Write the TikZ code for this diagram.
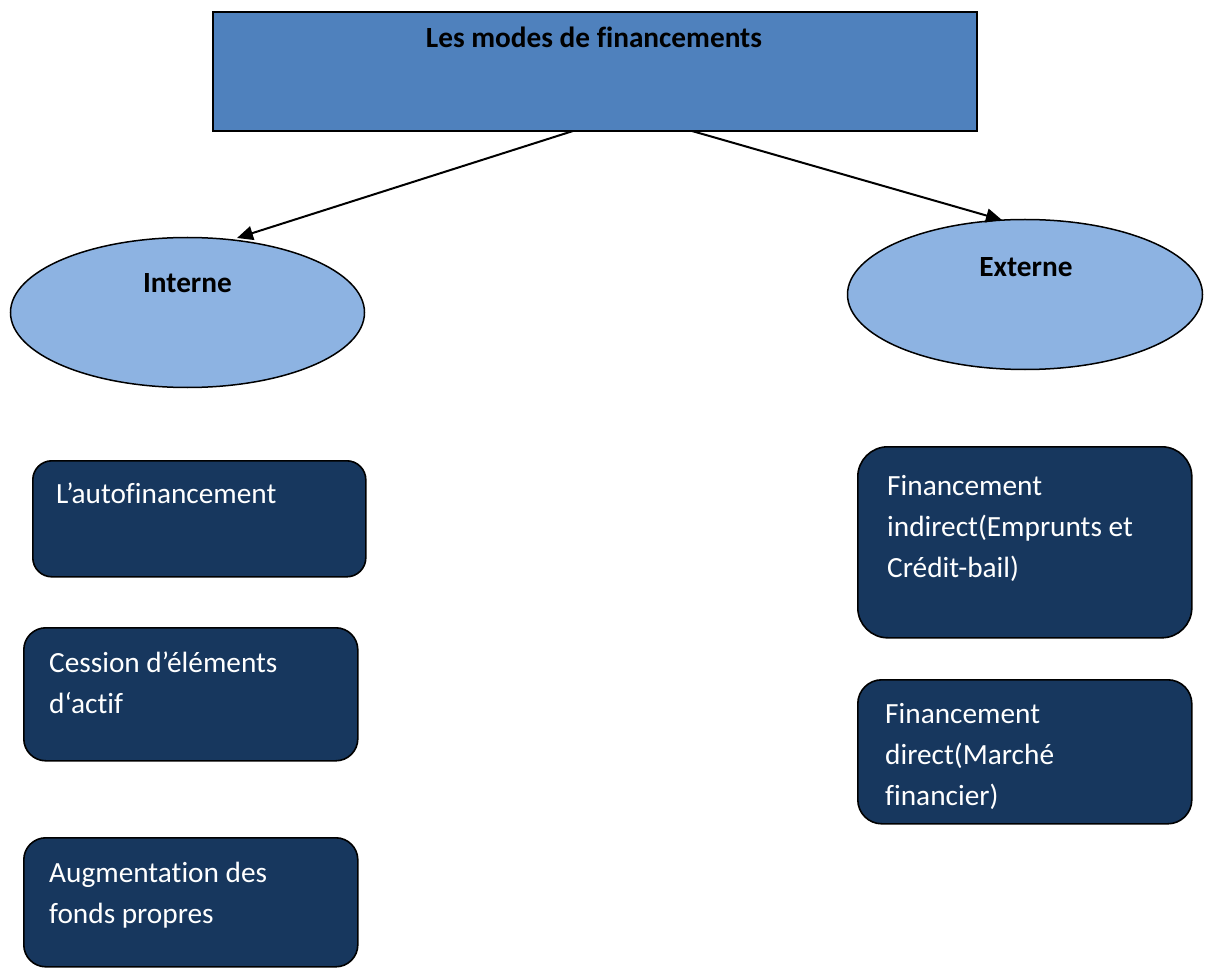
\documentclass[tikz,border=0pt]{standalone}
\usepackage{fontspec}
\setmainfont{Carlito}[Ligatures={NoCommon,NoRare,NoContextual}]
\usetikzlibrary{arrows.meta,shapes.geometric}
\definecolor{topblue}{HTML}{4F81BD}
\definecolor{ellblue}{HTML}{8DB3E2}
\definecolor{navyfill}{HTML}{17375E}
\begin{document}
\begin{tikzpicture}[x=1pt,y=-1pt,
  topbox/.style={draw=black,line width=2pt,fill=topblue,inner sep=0,minimum width=764pt,minimum height=119pt,anchor=north west},
  ellnode/.style={ellipse,draw=black,line width=1.5pt,fill=ellblue,inner sep=0},
  darkbox/.style={draw=black,line width=1.6pt,fill=navyfill,inner sep=0,anchor=north west},
  titletxt/.style={font=\fontsize{29.3}{41}\selectfont\bfseries,anchor=base,inner sep=0},
  wtxt/.style={font=\fontsize{29.3}{41}\selectfont,text=white,anchor=base west,inner sep=0},
  conn/.style={line width=2pt,-{Triangle[length=16pt,width=14pt]}}]
\useasboundingbox (0,0) rectangle (1205,968);
\clip (0,0) rectangle (1205,968);
\fill[white] (0,0) rectangle (1205,968);

% top box
\node[topbox] (top) at (212,11) {};
\node[titletxt] (ttop) at (594,48) {Les modes de financements};

% ellipses
\node[ellnode,minimum width=354pt,minimum height=150pt] (int) at (187.5,312.5) {};
\node[titletxt] (tint) at (187.5,293) {Interne};
\node[ellnode,minimum width=355pt,minimum height=150pt] (ext) at (1025,294.5) {};
\node[titletxt] (text) at (1026,277) {Externe};

% connectors
\coordinate (s1) at (573,131);
\coordinate (e1) at (237,238);
\coordinate (s2) at (692,131);
\coordinate (e2) at (1002,220);
\draw[conn] (s1) -- (e1);
\draw[conn] (s2) -- (e2);

% left boxes
\node[darkbox,rounded corners=19pt,minimum width=333pt,minimum height=116pt] (b1) at (32,460) {};
\node[wtxt] (b1a) at (56,503) {L’autofinancement};

\node[darkbox,rounded corners=22pt,minimum width=334pt,minimum height=133pt] (b2) at (23,627) {};
\node[wtxt] (b2a) at (49,672) {Cession d’éléments};
\node[wtxt] (b2b) at (49,713) {d‘actif};

\node[darkbox,rounded corners=22pt,minimum width=334pt,minimum height=129pt] (b3) at (23,837) {};
\node[wtxt] (b3a) at (49,882) {Augmentation des};
\node[wtxt] (b3b) at (49,923) {fonds propres};

% right boxes
\node[darkbox,rounded corners=30pt,minimum width=334pt,minimum height=191pt] (b4) at (857,446) {};
\node[wtxt] (b4a) at (887,495) {Financement};
\node[wtxt] (b4b) at (887,536) {indirect(Emprunts et};
\node[wtxt] (b4c) at (887,577) {Crédit-bail)};

\node[darkbox,rounded corners=24pt,minimum width=334pt,minimum height=144pt] (b5) at (857,679) {};
\node[wtxt] (b5a) at (885,723) {Financement};
\node[wtxt] (b5b) at (885,764) {direct(Marché};
\node[wtxt] (b5c) at (885,805) {financier)};
\end{tikzpicture}
\end{document}
